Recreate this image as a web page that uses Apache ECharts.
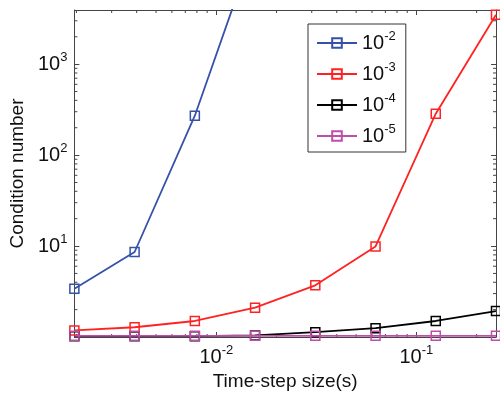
<!DOCTYPE html>
<html><head><meta charset="utf-8">
<script src="https://cdn.jsdelivr.net/npm/echarts@6/dist/echarts.min.js"></script>
<style>html,body{margin:0;padding:0;background:#fff}#c{width:500px;height:396px}</style>
</head><body><div id="c"></div>
<script>
// ---- data ----
const stepSizes = [1/512, 1/256, 1/128, 1/64, 1/32, 1/16, 1/8, 1/4];
const seriesNames = ['1e-2', '1e-3', '1e-4', '1e-5'];
const seriesExp = ['-2', '-3', '-4', '-5'];
const cond1e2 = [3.4, 8.6, 271, 21000];
const cond1e3 = [1.18, 1.28, 1.50, 2.10, 3.70, 9.9, 285, 3500];
const cond1e4 = [1.02, 1.02, 1.02, 1.04, 1.13, 1.25, 1.50, 1.93];
const cond1e5 = [1.03, 1.03, 1.03, 1.03, 1.03, 1.03, 1.03, 1.03];
const seriesColors = ['#3552a8', '#ff2222', '#000000', '#bd4fa9'];
const xMin = 1/512, xMax = 1/4, yMin = 1, yMax = 3940;

function minorVals(lo, hi) {
  const out = [];
  for (let e = Math.floor(Math.log10(lo)); e <= Math.ceil(Math.log10(hi)); e++) {
    for (let m = 2; m <= 9; m++) { const v = m * Math.pow(10, e); if (v > lo && v < hi) out.push(v); }
  }
  return out;
}
const xMinor = minorVals(xMin, xMax);
const yMinor = minorVals(yMin, yMax);

const FONT = 'Liberation Sans';
function powLabel(v) {
  const e = Math.log10(v);
  const r = Math.round(e);
  if (Math.abs(e - r) > 1e-6 || r === 0) return '';
  return '{b|10}{s|' + r + '}';
}
const richLab = {
  b: { fontSize: 20, fontFamily: FONT, color: '#111' },
  s: { fontSize: 13, fontFamily: FONT, color: '#111', padding: [0, 0, 13, 0] }
};
const axisLineStyle = { color: '#444', width: 1 };

const chart = echarts.init(document.getElementById('c'));
const datasets = [cond1e2, cond1e3, cond1e4, cond1e5];
const lineSeries = datasets.map((arr, i) => ({
  name: seriesNames[i], type: 'line', xAxisIndex: 0, yAxisIndex: 0,
  data: arr.map((v, j) => [stepSizes[j], v]),
  symbol: 'rect', symbolSize: 9, clip: true,
  lineStyle: { color: seriesColors[i], width: 1.8 },
  itemStyle: { color: 'rgba(0,0,0,0)', borderColor: seriesColors[i], borderWidth: 1.5 },
  emphasis: { disabled: true }, animation: false, z: 3 + i
}));

const tickStyle = { stroke: '#444', lineWidth: 1 };
const minorX = {
  type: 'custom', xAxisIndex: 0, yAxisIndex: 0, silent: true, animation: false, clip: false,
  data: xMinor.map(v => [v, yMin]),
  renderItem: function (params, api) {
    const v = api.value(0);
    const b = api.coord([v, yMin]); const t = api.coord([v, yMax]);
    return { type: 'group', children: [
      { type: 'line', shape: { x1: b[0], y1: b[1], x2: b[0], y2: b[1] - 3 }, style: tickStyle },
      { type: 'line', shape: { x1: t[0], y1: t[1], x2: t[0], y2: t[1] + 3 }, style: tickStyle }
    ]};
  }
};
const minorY = {
  type: 'custom', xAxisIndex: 0, yAxisIndex: 0, silent: true, animation: false, clip: false,
  data: yMinor.map(v => [xMin, v]),
  renderItem: function (params, api) {
    const v = api.value(1);
    const l = api.coord([xMin, v]); const r = api.coord([xMax, v]);
    return { type: 'group', children: [
      { type: 'line', shape: { x1: l[0], y1: l[1], x2: l[0] + 3, y2: l[1] }, style: tickStyle },
      { type: 'line', shape: { x1: r[0], y1: r[1], x2: r[0] - 3, y2: r[1] }, style: tickStyle }
    ]};
  }
};

const xBase = { type: 'log', logBase: 10, min: xMin, max: xMax,
  axisLine: { show: true, lineStyle: axisLineStyle },
  axisTick: { show: true, inside: true, length: 5, lineStyle: axisLineStyle },
  splitLine: { show: false }, minorTick: { show: false } };
const yBase = { type: 'log', logBase: 10, min: yMin, max: yMax,
  axisLine: { show: true, lineStyle: axisLineStyle },
  axisTick: { show: true, inside: true, length: 5, lineStyle: axisLineStyle },
  splitLine: { show: false }, minorTick: { show: false } };

chart.setOption({
  animation: false,
  backgroundColor: '#fff',
  grid: { left: 67, right: 4, top: 10, bottom: 59, containLabel: false },
  legend: {
    data: seriesNames, orient: 'vertical', left: 308, top: 24,
    padding: [6, 10, 6, 8], itemGap: 8, itemWidth: 40, itemHeight: 12,
    backgroundColor: '#fff', borderColor: '#333', borderWidth: 1, borderRadius: 0,
    selectedMode: false,
    formatter: function (name) { const i = seriesNames.indexOf(name); return '{b|10}{s|' + seriesExp[i] + '}'; },
    textStyle: { rich: richLab, padding: [0, 0, 0, 0] }
  },
  xAxis: [
    Object.assign({}, xBase, { position: 'bottom', name: 'Time-step size(s)', nameLocation: 'middle', nameGap: 32,
      nameTextStyle: { fontSize: 19, fontFamily: FONT, color: '#111' },
      axisLabel: { show: true, margin: 7, showMinLabel: false, showMaxLabel: false, formatter: powLabel, rich: richLab } }),
    Object.assign({}, xBase, { position: 'top', axisLabel: { show: false } })
  ],
  yAxis: [
    Object.assign({}, yBase, { position: 'left', name: 'Condition number', nameLocation: 'middle', nameGap: 36,
      nameTextStyle: { fontSize: 19, fontFamily: FONT, color: '#111' },
      axisLabel: { show: true, margin: 7, showMinLabel: false, showMaxLabel: false, formatter: powLabel, rich: richLab } }),
    Object.assign({}, yBase, { position: 'right', axisLabel: { show: false } })
  ],
  series: [minorX, minorY].concat(lineSeries)
});
</script></body></html>
